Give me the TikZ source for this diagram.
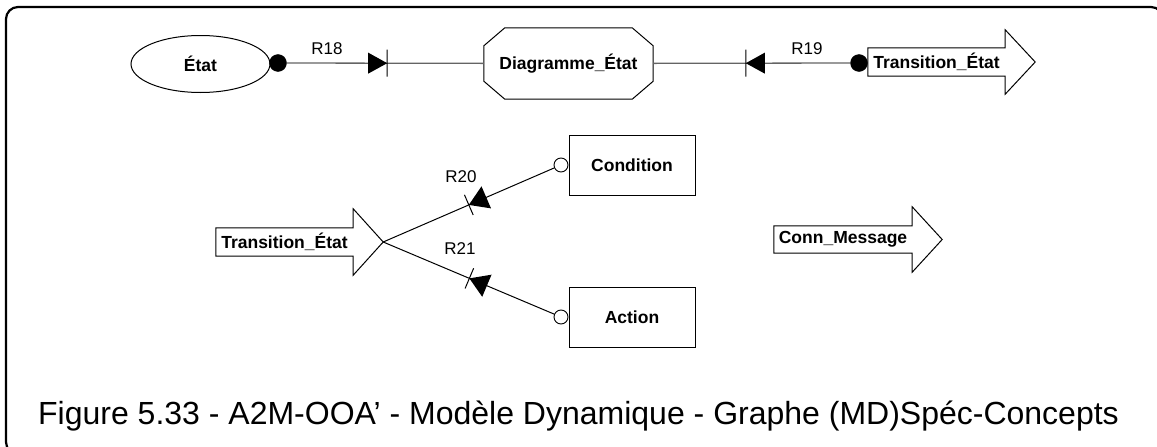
\documentclass[tikz,border=0pt]{standalone}
\usepackage{fontspec}
\setmainfont{Liberation Sans}
\usetikzlibrary{shapes.geometric,decorations.markings,calc}
\definecolor{lnk}{RGB}{100,100,100}
\newcommand{\blockarrow}[3]{%
  \draw[shp] (#1.north west) -- (#1.north east) -- ([yshift=#2]#1.north east)
    -- ([xshift=#3]#1.east) -- ([yshift=-#2]#1.south east) -- (#1.south east)
    -- (#1.south west) -- cycle;}
\begin{document}
\begin{tikzpicture}[x=1pt,y=-1pt,
  lbl/.style={font=\fontsize{17.5}{20}\selectfont\bfseries, inner sep=0pt},
  rlab/.style={font=\fontsize{17}{20}\selectfont, inner sep=0pt},
  shp/.style={draw=black, line width=1pt},
  fdot/.style={circle, fill=black, draw=black, minimum size=17pt, inner sep=0pt},
  odot/.style={circle, fill=white, draw=black, line width=0.9pt, minimum size=14pt, inner sep=0pt},
  topline/.style={draw=lnk, line width=1.3pt},
  lowline/.style={draw=black, line width=1pt},
  relmark/.style n args={3}{postaction={decorate, decoration={markings,
    mark=at position #1 with {\fill[black] (-19pt,-#3) -- (0pt,0pt) -- (-19pt,#3) -- cycle;
      \draw[black, line width=1pt] (0pt,-#2) -- (0pt,#2);}}}},
]
\useasboundingbox (0,0) rectangle (1157,447);
\begin{scope}
  \clip (0,0) rectangle (1157,447);
  \draw[line width=2.2pt, rounded corners=12pt] (6,7) rectangle (1163,454);
\end{scope}

% top row
\node[shp, ellipse, lbl, minimum width=139pt, minimum height=57pt] (etat) at (200.5,64) {État};
\node[lbl, minimum width=169pt, minimum height=71pt] (diag) at (568.5,63.5) {Diagramme\_État};
\draw[shp] ([xshift=21pt]diag.north west) -- ([xshift=-21pt]diag.north east)
  -- ([yshift=-18pt]diag.north east) -- ([yshift=18pt]diag.south east)
  -- ([xshift=-21pt]diag.south east) -- ([xshift=21pt]diag.south west)
  -- ([yshift=18pt]diag.south west) -- ([yshift=-18pt]diag.north west) -- cycle;
\node[lbl, minimum width=137pt, minimum height=28pt] (tr1) at (936.5,62) {Transition\_État};
\blockarrow{tr1}{18pt}{30pt}
\node[fdot] (d18) at (278,63) {};
\node[fdot] (d19) at (859,63) {};
\draw[topline, relmark={100.5pt}{13.5pt}{10.5pt}] (d18) -- (diag);
\draw[topline, relmark={104.5pt}{13.5pt}{10.5pt}] (d19) -- (diag);
\node[rlab] (l18) at (327,49) {R18};
\node[rlab] (l19) at (807,49) {R19};

% lower part
\node[lbl, minimum width=137pt, minimum height=28pt] (tr2) at (284.5,242) {Transition\_État};
\blockarrow{tr2}{19pt}{30pt}
\coordinate (tr2tip) at ([xshift=30pt]tr2.east);
\node[shp, lbl, minimum width=126pt, minimum height=60pt] (cond) at (632,165) {Condition};
\node[shp, lbl, minimum width=126pt, minimum height=60pt] (act) at (632,317) {Action};
\node[odot] (oc) at (561,165) {};
\node[odot] (oa) at (561,317) {};
\draw[lowline, relmark={93pt}{11pt}{12pt}] (oc) -- (tr2tip);
\draw[lowline, relmark={92pt}{11pt}{12pt}] (oa) -- (tr2tip);
\node[rlab] (l20) at (461,177) {R20};
\node[rlab] (l21) at (460,249) {R21};

\node[lbl, minimum width=138pt, minimum height=27pt] (conn) at (843,239.5) {Conn\_Message};
\blockarrow{conn}{19pt}{30pt}

\node[font=\fontsize{32}{36}\selectfont, anchor=base, inner sep=0pt] (cap) at (578.5,424)
  {Figure 5.33 - A2M-OOA’ - Modèle Dynamique - Graphe (MD)Spéc-Concepts};
\end{tikzpicture}
\end{document}
